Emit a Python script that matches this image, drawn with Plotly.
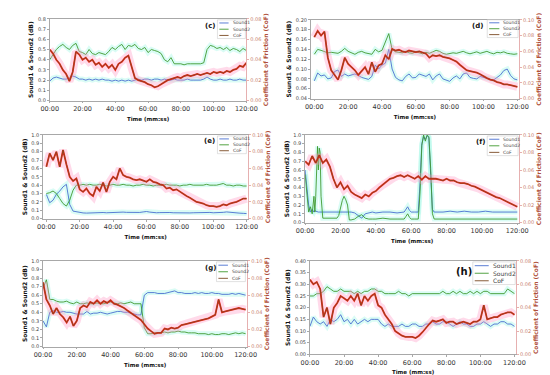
import plotly.graph_objects as go

W, H = 550, 375
T = list(range(0, 121, 2))
TICKV = [0, 20, 40, 60, 80, 100, 120]
TICKT = ["00:00", "20:00", "40:00", "60:00", "80:00", "100:00", "120:00"]

# ---------------- panel (c) ----------------
C_S1 = [0.19,0.22,0.23,0.22,0.21,0.21,0.22,0.24,0.23,0.21,
        0.21,0.20,0.21,0.20,0.21,0.20,0.21,0.20,0.20,0.19,
        0.20,0.19,0.20,0.19,0.20,0.19,0.20,0.21,0.20,0.21,
        0.21,0.20,0.21,0.21,0.20,0.21,0.20,0.20,0.21,0.20,
        0.20,0.20,0.21,0.20,0.20,0.20,0.20,0.21,0.23,0.21,
        0.20,0.20,0.21,0.20,0.20,0.21,0.20,0.20,0.21,0.20,
        0.20]
C_S2 = [0.40,0.45,0.50,0.53,0.55,0.52,0.50,0.54,0.56,0.48,
        0.47,0.45,0.50,0.46,0.45,0.47,0.46,0.45,0.48,0.52,
        0.50,0.53,0.55,0.50,0.54,0.53,0.55,0.51,0.50,0.52,
        0.47,0.50,0.49,0.48,0.46,0.40,0.38,0.42,0.36,0.36,
        0.36,0.35,0.36,0.36,0.36,0.36,0.36,0.37,0.50,0.54,
        0.53,0.51,0.52,0.50,0.52,0.49,0.51,0.50,0.48,0.51,
        0.49]
C_COF = [0.050,0.046,0.040,0.036,0.030,0.026,0.019,0.028,0.048,0.045,
         0.040,0.042,0.038,0.040,0.035,0.037,0.033,0.036,0.032,0.035,
         0.030,0.036,0.038,0.042,0.044,0.032,0.022,0.020,0.019,0.018,
         0.016,0.015,0.013,0.014,0.016,0.018,0.020,0.021,0.022,0.023,
         0.022,0.024,0.025,0.024,0.025,0.026,0.025,0.026,0.027,0.026,
         0.028,0.027,0.028,0.027,0.029,0.028,0.030,0.031,0.034,0.033,
         0.037]

# ---------------- panel (d) ----------------
D_S1 = [0.076,0.092,0.086,0.088,0.080,0.082,0.095,0.098,0.085,0.090,
        0.086,0.088,0.090,0.087,0.083,0.081,0.079,0.085,0.108,0.100,
        0.108,0.112,0.140,0.100,0.083,0.078,0.076,0.085,0.090,0.082,
        0.083,0.090,0.087,0.085,0.090,0.078,0.086,0.090,0.080,0.078,
        0.075,0.082,0.086,0.080,0.090,0.092,0.083,0.081,0.080,0.085,
        0.083,0.080,0.079,0.078,0.083,0.088,0.097,0.100,0.087,0.080,
        0.078]
D_S2 = [0.130,0.140,0.138,0.135,0.133,0.134,0.133,0.132,0.136,0.142,
        0.136,0.133,0.130,0.134,0.136,0.133,0.131,0.130,0.140,0.135,
        0.138,0.155,0.172,0.140,0.135,0.134,0.133,0.136,0.133,0.132,
        0.135,0.133,0.131,0.134,0.132,0.135,0.138,0.136,0.132,0.130,
        0.131,0.133,0.132,0.134,0.136,0.133,0.131,0.133,0.135,0.132,
        0.134,0.136,0.133,0.131,0.134,0.133,0.135,0.132,0.131,0.130,
        0.131]
D_COF = [0.078,0.086,0.080,0.085,0.052,0.036,0.030,0.024,0.036,0.052,
         0.044,0.040,0.036,0.030,0.035,0.040,0.031,0.046,0.034,0.042,
         0.044,0.055,0.050,0.063,0.061,0.062,0.060,0.059,0.061,0.060,
         0.059,0.060,0.058,0.057,0.052,0.055,0.054,0.055,0.053,0.052,
         0.051,0.049,0.047,0.043,0.039,0.036,0.035,0.034,0.033,0.031,
         0.028,0.026,0.024,0.023,0.021,0.020,0.018,0.018,0.017,0.016,
         0.015]

# ---------------- panel (e) ----------------
E_S1 = [0.29,0.19,0.22,0.29,0.33,0.38,0.41,0.17,0.09,0.08,
        0.070,0.068,0.066,0.068,0.070,0.072,0.075,0.073,0.070,0.072,
        0.070,0.075,0.080,0.078,0.075,0.074,0.072,0.070,0.074,0.080,
        0.085,0.078,0.072,0.070,0.072,0.074,0.075,0.073,0.070,0.068,
        0.066,0.065,0.067,0.068,0.070,0.072,0.075,0.078,0.080,0.074,
        0.070,0.070,0.072,0.075,0.080,0.074,0.070,0.066,0.065,0.063,
        0.060]
E_S2 = [0.30,0.31,0.33,0.30,0.24,0.18,0.15,0.22,0.34,0.40,
        0.40,0.41,0.40,0.41,0.40,0.40,0.41,0.40,0.39,0.40,
        0.41,0.40,0.40,0.41,0.40,0.40,0.39,0.40,0.40,0.41,
        0.40,0.40,0.39,0.40,0.40,0.40,0.41,0.40,0.40,0.40,
        0.39,0.40,0.40,0.41,0.40,0.40,0.40,0.40,0.41,0.40,
        0.40,0.40,0.41,0.42,0.40,0.40,0.39,0.40,0.40,0.39,
        0.39]
E_COF = [0.062,0.078,0.070,0.080,0.062,0.082,0.065,0.050,0.045,0.048,
         0.035,0.032,0.036,0.030,0.027,0.038,0.033,0.043,0.032,0.044,
         0.050,0.047,0.060,0.052,0.050,0.049,0.047,0.046,0.047,0.045,
         0.044,0.047,0.044,0.043,0.041,0.040,0.036,0.037,0.034,0.035,
         0.032,0.030,0.027,0.025,0.022,0.020,0.019,0.018,0.016,0.015,
         0.015,0.014,0.015,0.017,0.016,0.018,0.019,0.020,0.022,0.024,
         0.024]

# ---------------- panel (f) ----------------
F_TS = [0,1,2,3,4,5,5.5,6,7,7.5,8,8.5,9,10,12,14,16,18,19,20,21,22,23,24,25,26,
        28,30,32,34,36,38,40,44,48,52,56,57,58,59,60,62,64,65,66,67,68,69,70,71,
        72,73,74,78,82,86,90,94,98,102,106,110,114,118,120]
F_S1 = [0.60,0.40,0.20,0.12,0.15,0.12,0.14,0.13,0.12,0.12,0.12,0.12,0.12,0.12,
        0.12,0.12,0.12,0.12,0.12,0.12,0.12,0.12,0.12,0.12,0.12,0.12,
        0.11,0.08,0.05,0.10,0.11,0.12,0.11,0.12,0.12,0.11,0.12,0.15,0.18,0.14,
        0.12,0.12,0.12,0.45,0.90,0.98,0.95,0.99,0.97,0.55,
        0.15,0.12,0.12,0.12,0.13,0.12,0.13,0.12,0.12,0.13,0.12,0.12,0.12,0.12,0.12]
F_S2 = [0.55,0.30,0.12,0.18,0.10,0.30,0.12,0.30,0.87,0.60,0.85,0.80,0.30,0.05,
        0.05,0.05,0.05,0.05,0.08,0.18,0.25,0.30,0.26,0.20,0.03,0.03,
        0.04,0.07,0.09,0.05,0.04,0.04,0.04,0.05,0.04,0.04,0.04,0.07,0.10,0.06,
        0.04,0.04,0.04,0.35,0.88,1.00,0.93,1.00,0.98,0.62,
        0.10,0.04,0.04,0.04,0.04,0.04,0.04,0.04,0.04,0.04,0.04,0.04,0.04,0.04,0.04]
F_COF = [0.070,0.066,0.076,0.068,0.077,0.068,0.072,0.064,0.050,0.040,
         0.046,0.038,0.042,0.035,0.032,0.030,0.028,0.032,0.030,0.034,
         0.036,0.040,0.043,0.046,0.050,0.051,0.053,0.054,0.052,0.054,
         0.052,0.050,0.053,0.049,0.053,0.050,0.050,0.050,0.049,0.048,
         0.050,0.048,0.048,0.046,0.045,0.045,0.044,0.042,0.041,0.039,
         0.037,0.035,0.033,0.031,0.029,0.028,0.026,0.024,0.022,0.020,
         0.018]

# ---------------- panel (g) ----------------
G_S1 = [0.30,0.23,0.40,0.42,0.40,0.40,0.41,0.40,0.40,0.39,
        0.38,0.38,0.38,0.41,0.38,0.39,0.39,0.40,0.39,0.38,
        0.39,0.40,0.41,0.41,0.40,0.40,0.39,0.38,0.37,0.37,
        0.60,0.63,0.63,0.63,0.62,0.62,0.62,0.63,0.64,0.65,
        0.63,0.63,0.62,0.62,0.62,0.63,0.62,0.63,0.62,0.62,
        0.63,0.62,0.62,0.61,0.61,0.61,0.62,0.61,0.62,0.61,
        0.60]
G_S2 = [0.68,0.78,0.55,0.55,0.53,0.52,0.52,0.53,0.51,0.50,
        0.52,0.50,0.50,0.51,0.50,0.50,0.51,0.50,0.50,0.51,
        0.52,0.51,0.50,0.51,0.50,0.51,0.52,0.50,0.50,0.50,
        0.22,0.15,0.15,0.16,0.16,0.16,0.17,0.16,0.17,0.17,
        0.18,0.17,0.17,0.16,0.16,0.16,0.15,0.15,0.15,0.14,
        0.15,0.14,0.14,0.15,0.15,0.14,0.15,0.16,0.15,0.16,
        0.15]
G_COF = [0.075,0.055,0.048,0.038,0.045,0.038,0.034,0.028,0.035,0.024,
         0.030,0.045,0.048,0.046,0.052,0.050,0.054,0.050,0.053,0.051,
         0.054,0.050,0.049,0.047,0.045,0.042,0.039,0.036,0.034,0.031,
         0.026,0.021,0.018,0.015,0.016,0.016,0.021,0.020,0.022,0.021,
         0.022,0.025,0.026,0.027,0.028,0.029,0.030,0.031,0.032,0.033,
         0.035,0.037,0.055,0.040,0.041,0.042,0.043,0.044,0.045,0.044,
         0.043]

# ---------------- panel (h) ----------------
H_S1 = [0.12,0.16,0.14,0.13,0.14,0.12,0.15,0.14,0.15,0.17,
        0.14,0.15,0.13,0.15,0.13,0.14,0.15,0.14,0.15,0.15,
        0.15,0.13,0.12,0.13,0.12,0.12,0.12,0.13,0.12,0.12,
        0.13,0.13,0.12,0.12,0.13,0.13,0.14,0.13,0.13,0.14,
        0.14,0.13,0.12,0.13,0.14,0.13,0.13,0.12,0.12,0.13,
        0.13,0.14,0.13,0.12,0.13,0.13,0.14,0.14,0.13,0.13,
        0.12]
H_S2 = [0.25,0.25,0.26,0.26,0.27,0.29,0.28,0.27,0.27,0.28,
        0.27,0.27,0.27,0.26,0.27,0.26,0.27,0.27,0.28,0.28,
        0.27,0.27,0.26,0.26,0.26,0.26,0.27,0.26,0.26,0.25,
        0.26,0.26,0.26,0.26,0.26,0.26,0.26,0.26,0.26,0.27,
        0.26,0.26,0.27,0.26,0.27,0.26,0.26,0.27,0.26,0.27,
        0.26,0.27,0.27,0.26,0.26,0.26,0.26,0.26,0.28,0.27,
        0.26]
H_COF = [0.064,0.060,0.062,0.056,0.032,0.040,0.026,0.040,0.044,0.050,
         0.048,0.046,0.050,0.046,0.052,0.042,0.050,0.046,0.050,0.052,
         0.042,0.040,0.034,0.030,0.026,0.020,0.018,0.016,0.015,0.015,
         0.015,0.014,0.016,0.019,0.023,0.026,0.029,0.028,0.029,0.030,
         0.027,0.028,0.028,0.026,0.027,0.028,0.027,0.026,0.028,0.028,
         0.030,0.042,0.030,0.031,0.032,0.032,0.034,0.035,0.036,0.036,
         0.034]

for arr in [C_S1, C_S2, C_COF, D_S1, D_S2, D_COF, E_S1, E_S2, E_COF, F_COF,
            G_S1, G_S2, G_COF, H_S1, H_S2, H_COF]:
    assert len(arr) == len(T), len(arr)
assert len(F_S1) == len(F_TS) and len(F_S2) == len(F_TS), (len(F_TS), len(F_S1), len(F_S2))

PANELS = [
    dict(label="(c)", ts=T, s1=C_S1, s2=C_S2, cof=C_COF, px=(34, 238), py=(8, 91),
         xr=(0, 120), yl=(0, 0.8, 0.1, ".1f"), yr=(0, 0.08, 0.02),
         leg=(208, 9, 237, 28), legfs=4.5, lab=(201, 15), labfs=7),
    dict(label="(d)", ts=T, s1=D_S1, s2=D_S2, cof=D_COF, px=(305, 521), py=(9, 89),
         xr=(-2, 121), yl=(0.04, 0.20, 0.02, ".2f"), yr=(0, 0.10, 0.02),
         leg=(488, 9, 520, 27), legfs=4.5, lab=(478, 15), labfs=7),
    dict(label="(e)", ts=T, s1=E_S1, s2=E_S2, cof=E_COF, px=(27, 240), py=(126, 211),
         xr=(-2, 121), yl=(0, 1.0, 0.1, ".1f"), yr=(0, 0.10, 0.02),
         leg=(208, 127, 238, 145), legfs=4.5, lab=(200, 132), labfs=7),
    dict(label="(f)", ts=F_TS, s1=F_S1, s2=F_S2, cof=F_COF, px=(299, 521), py=(126, 215),
         xr=(0, 121), yl=(0, 1.0, 0.1, ".1f"), yr=(0, 0.10, 0.02),
         leg=(488, 127, 520, 147), legfs=4.5, lab=(481, 133), labfs=7),
    dict(label="(g)", ts=T, s1=G_S1, s2=G_S2, cof=G_COF, px=(27, 239), py=(254, 341),
         xr=(0, 121), yl=(0, 1.0, 0.1, ".1f"), yr=(0, 0.10, 0.02),
         leg=(207, 255, 237, 275), legfs=4.5, lab=(201, 261), labfs=7),
    dict(label="(h)", ts=T, s1=H_S1, s2=H_S2, cof=H_COF, px=(304, 518), py=(254, 349),
         xr=(0, 121), yl=(0, 0.40, 0.05, ".2f"), yr=(0, 0.08, 0.02),
         leg=(473, 255, 517, 278), legfs=6, lab=(464, 265), labfs=10),
]

S1_COLOR = "#4a6fd0"
S2_COLOR = "#3f9a2f"
COF_RED = "#f0281c"
COF_BROWN = "#7a4a22"
BAND_S = "rgba(150,245,225,0.35)"
BAND_C = "rgba(255,150,195,0.35)"
AX_COLOR = "#a8a8a8"
R_TICK = "#c8806e"
R_TITLE = "#b0503a"

fig = go.Figure()
layout = {}
shapes = []
annots = []


def px2x(v):
    return v / W


def py2y(v):
    return 1 - v / H


for k, p in enumerate(PANELS):
    xa = "x" if k == 0 else f"x{k + 1}"
    yl = "y" if k == 0 else f"y{2 * k + 1}"
    yr = f"y{2 * k + 2}"
    ts = p["ts"]
    # sound bands + lines (left axis)
    for s in (p["s1"], p["s2"]):
        fig.add_trace(go.Scatter(x=ts, y=s, xaxis=xa, yaxis=yl, mode="lines",
                                 line=dict(color=BAND_S, width=5), hoverinfo="skip",
                                 showlegend=False))
    fig.add_trace(go.Scatter(x=ts, y=p["s1"], xaxis=xa, yaxis=yl, mode="lines", name="Sound1",
                             line=dict(color=S1_COLOR, width=0.9), showlegend=False))
    fig.add_trace(go.Scatter(x=ts, y=p["s2"], xaxis=xa, yaxis=yl, mode="lines", name="Sound2",
                             line=dict(color=S2_COLOR, width=0.9), showlegend=False))
    # CoF (right axis)
    fig.add_trace(go.Scatter(x=T, y=p["cof"], xaxis=xa, yaxis=yr, mode="lines",
                             line=dict(color=BAND_C, width=8), hoverinfo="skip", showlegend=False))
    fig.add_trace(go.Scatter(x=T, y=p["cof"], xaxis=xa, yaxis=yr, mode="lines", name="CoF",
                             line=dict(color=COF_RED, width=1.8), showlegend=False))
    fig.add_trace(go.Scatter(x=T, y=p["cof"], xaxis=xa, yaxis=yr, mode="lines",
                             line=dict(color=COF_BROWN, width=0.8), hoverinfo="skip",
                             showlegend=False))

    xd = [px2x(p["px"][0]), px2x(p["px"][1])]
    yd = [py2y(p["py"][1]), py2y(p["py"][0])]
    xkey = "xaxis" if k == 0 else f"xaxis{k + 1}"
    ylkey = "yaxis" if k == 0 else f"yaxis{2 * k + 1}"
    yrkey = f"yaxis{2 * k + 2}"
    layout[xkey] = dict(domain=xd, anchor=yl, range=list(p["xr"]), tickvals=TICKV, ticktext=TICKT,
                        showline=True, linecolor=AX_COLOR, linewidth=0.8, mirror=True,
                        ticks="outside", ticklen=2, tickwidth=0.6, tickcolor=AX_COLOR,
                        tickfont=dict(size=6.5, color="#333"), showgrid=False, zeroline=False,
                        title=dict(text="<b>Time (mm:ss)</b>", font=dict(size=5.5, color="#111"),
                                   standoff=4))
    y0, y1, dt, fmt = p["yl"]
    layout[ylkey] = dict(domain=yd, anchor=xa, range=[y0, y1], dtick=dt, tick0=y0, tickformat=fmt,
                         showline=True, linecolor=AX_COLOR, linewidth=0.8,
                         ticks="outside", ticklen=2, tickwidth=0.6, tickcolor=AX_COLOR,
                         tickfont=dict(size=5, color="#444"), showgrid=False, zeroline=False,
                         title=dict(text="<b>Sound1 & Sound2 (dB)</b>",
                                    font=dict(size=6, color="#111"), standoff=3))
    r0, r1, rdt = p["yr"]
    layout[yrkey] = dict(anchor=xa, overlaying=yl, side="right", range=[r0, r1], dtick=rdt,
                         tick0=0, tickformat=".2f", showline=True, linecolor="#e6b0b0",
                         linewidth=0.8, ticks="outside", ticklen=2, tickwidth=0.6,
                         tickcolor="#e6b0b0", tickfont=dict(size=5, color=R_TICK),
                         showgrid=False, zeroline=False,
                         title=dict(text="<b>Coefficient of Friction (CoF)</b>",
                                    font=dict(size=6, color=R_TITLE), standoff=3))

    # manual legend box
    lx0, ly0, lx1, ly1 = p["leg"]
    shapes.append(dict(type="rect", xref="paper", yref="paper", layer="above",
                       x0=px2x(lx0), x1=px2x(lx1), y0=py2y(ly1), y1=py2y(ly0),
                       fillcolor="rgba(255,255,255,0.85)", line=dict(color="#cccccc", width=0.6)))
    hgt = ly1 - ly0
    wid = lx1 - lx0
    L = wid * 0.33
    for i, (nm, col) in enumerate([("Sound1", S1_COLOR), ("Sound2", S2_COLOR), ("CoF", COF_BROWN)]):
        yy = ly0 + hgt * (2 * i + 1) / 6
        shapes.append(dict(type="line", xref="paper", yref="paper", layer="above",
                           x0=px2x(lx0 + 2), x1=px2x(lx0 + 2 + L), y0=py2y(yy), y1=py2y(yy),
                           line=dict(color=col, width=0.9)))
        annots.append(dict(xref="paper", yref="paper", x=px2x(lx0 + 4 + L), y=py2y(yy),
                           text=nm, showarrow=False, xanchor="left", yanchor="middle",
                           font=dict(size=p["legfs"], color="#444")))
    annots.append(dict(xref="paper", yref="paper", x=px2x(p["lab"][0]), y=py2y(p["lab"][1]),
                       text=f"<b>{p['label']}</b>", showarrow=False, xanchor="center",
                       yanchor="middle", font=dict(size=p["labfs"], color="#111")))

fig.update_layout(width=W, height=H, margin=dict(l=0, r=0, t=0, b=0),
                  paper_bgcolor="white", plot_bgcolor="white",
                  font=dict(family="DejaVu Sans"), showlegend=False,
                  shapes=shapes, annotations=annots, **layout)

fig.write_html("out.html")
